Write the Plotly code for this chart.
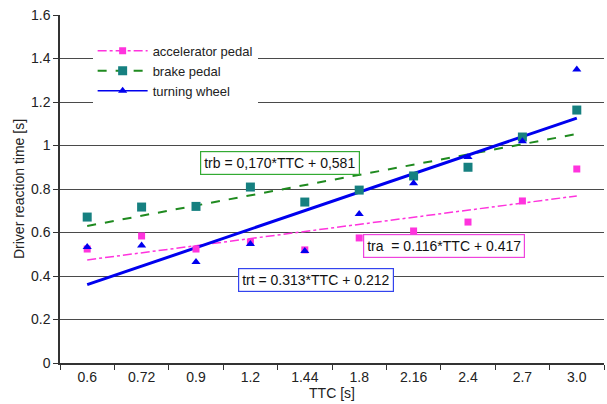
import plotly.graph_objects as go

ttc = ["0.6", "0.72", "0.9", "1.2", "1.44", "1.8", "2.16", "2.4", "2.7", "3.0"]
accel = [0.524, 0.584, 0.524, 0.556, 0.52, 0.575, 0.607, 0.648, 0.745, 0.892]
brake = [0.671, 0.717, 0.72, 0.809, 0.74, 0.795, 0.86, 0.90, 1.039, 1.163]
wheel = [0.533, 0.54, 0.464, 0.547, 0.515, 0.685, 0.827, 0.947, 1.02, 1.35]

trend_x = ["0.6", "3.0"]
accel_trend = [0.474, 0.768]
brake_trend = [0.63, 1.053]
wheel_trend = [0.36, 1.126]

MAG = "#ff33dd"
TEAL = "#168080"
GREEN = "#1f8a1f"
BLUE = "#0000ee"

fig = go.Figure()
# trend lines (no legend)
fig.add_trace(go.Scatter(x=trend_x, y=accel_trend, mode="lines",
                         line=dict(color=MAG, width=1.5, dash="dashdot"), showlegend=False))
fig.add_trace(go.Scatter(x=trend_x, y=brake_trend, mode="lines",
                         line=dict(color=GREEN, width=2, dash="dash"), showlegend=False))
fig.add_trace(go.Scatter(x=trend_x, y=wheel_trend, mode="lines",
                         line=dict(color=BLUE, width=3), showlegend=False))
# legend entries
fig.add_trace(go.Scatter(x=[None], y=[None], mode="lines+markers", name="accelerator pedal",
                         line=dict(color=MAG, width=1.5, dash="dashdot"),
                         marker=dict(symbol="square", color=MAG, size=7)))
fig.add_trace(go.Scatter(x=[None], y=[None], mode="lines+markers", name="brake pedal",
                         line=dict(color=GREEN, width=2, dash="dash"),
                         marker=dict(symbol="square", color=TEAL, size=9)))
fig.add_trace(go.Scatter(x=[None], y=[None], mode="lines+markers", name="turning wheel",
                         line=dict(color=BLUE, width=1.5),
                         marker=dict(symbol="triangle-up", color=BLUE, size=8)))
# data points
fig.add_trace(go.Scatter(x=ttc, y=accel, mode="markers", showlegend=False,
                         marker=dict(symbol="square", color=MAG, size=7)))
fig.add_trace(go.Scatter(x=ttc, y=brake, mode="markers", showlegend=False,
                         marker=dict(symbol="square", color=TEAL, size=9)))
fig.add_trace(go.Scatter(x=ttc, y=wheel, mode="markers", showlegend=False,
                         marker=dict(symbol="triangle-up", color=BLUE, size=8)))

ann_font = dict(family="Liberation Sans, Arial", size=14, color="#111111")
fig.add_annotation(x=0.404, y=0.575, xref="paper", yref="paper", text="trb = 0,170*TTC + 0,581",
                   showarrow=False, font=ann_font, bordercolor="#33aa33", borderwidth=1.2,
                   borderpad=3, bgcolor="white")
fig.add_annotation(x=0.854, y=0.336, xref="paper", yref="paper", text="tra  = 0.116*TTC + 0.417",
                   showarrow=False, font=ann_font, bordercolor="#ee44dd", borderwidth=1.2,
                   borderpad=3, bgcolor="white")
fig.add_annotation(x=0.471, y=0.204, xref="paper", yref="paper", text="trt = 0.313*TTC + 0.212",
                   showarrow=False, font=ann_font, bordercolor="#3344ee", borderwidth=1.2,
                   borderpad=3, bgcolor="white")

fig.update_layout(
    width=607, height=404,
    margin=dict(l=60, r=3, t=15, b=41),
    paper_bgcolor="white", plot_bgcolor="white",
    font=dict(family="Liberation Sans, Arial", size=14, color="#222222"),
    legend=dict(x=0.06, y=0.94, xanchor="left", yanchor="top", bgcolor="white",
                font=dict(size=13), tracegroupgap=0, itemwidth=50),
    xaxis=dict(type="category", categoryorder="array", categoryarray=ttc,
               range=[-0.5, 9.5], tickson="boundaries", ticks="outside", ticklen=5,
               tickcolor="#333", showline=True, linecolor="#333", linewidth=1.5,
               showgrid=False, tickfont=dict(size=14),
               title=dict(text="TTC [s]", standoff=2, font=dict(size=14))),
    yaxis=dict(range=[0, 1.6], dtick=0.2, tickformat="~g", ticks="outside", ticklen=5,
               tickcolor="#333", showline=True, linecolor="#333", linewidth=1.5,
               showgrid=True, gridcolor="#4a4a4a", gridwidth=1.3, zeroline=False,
               tickfont=dict(size=14),
               title=dict(text="Driver reaction time [s]", standoff=3, font=dict(size=14))),
)

fig.write_html("out.html")
